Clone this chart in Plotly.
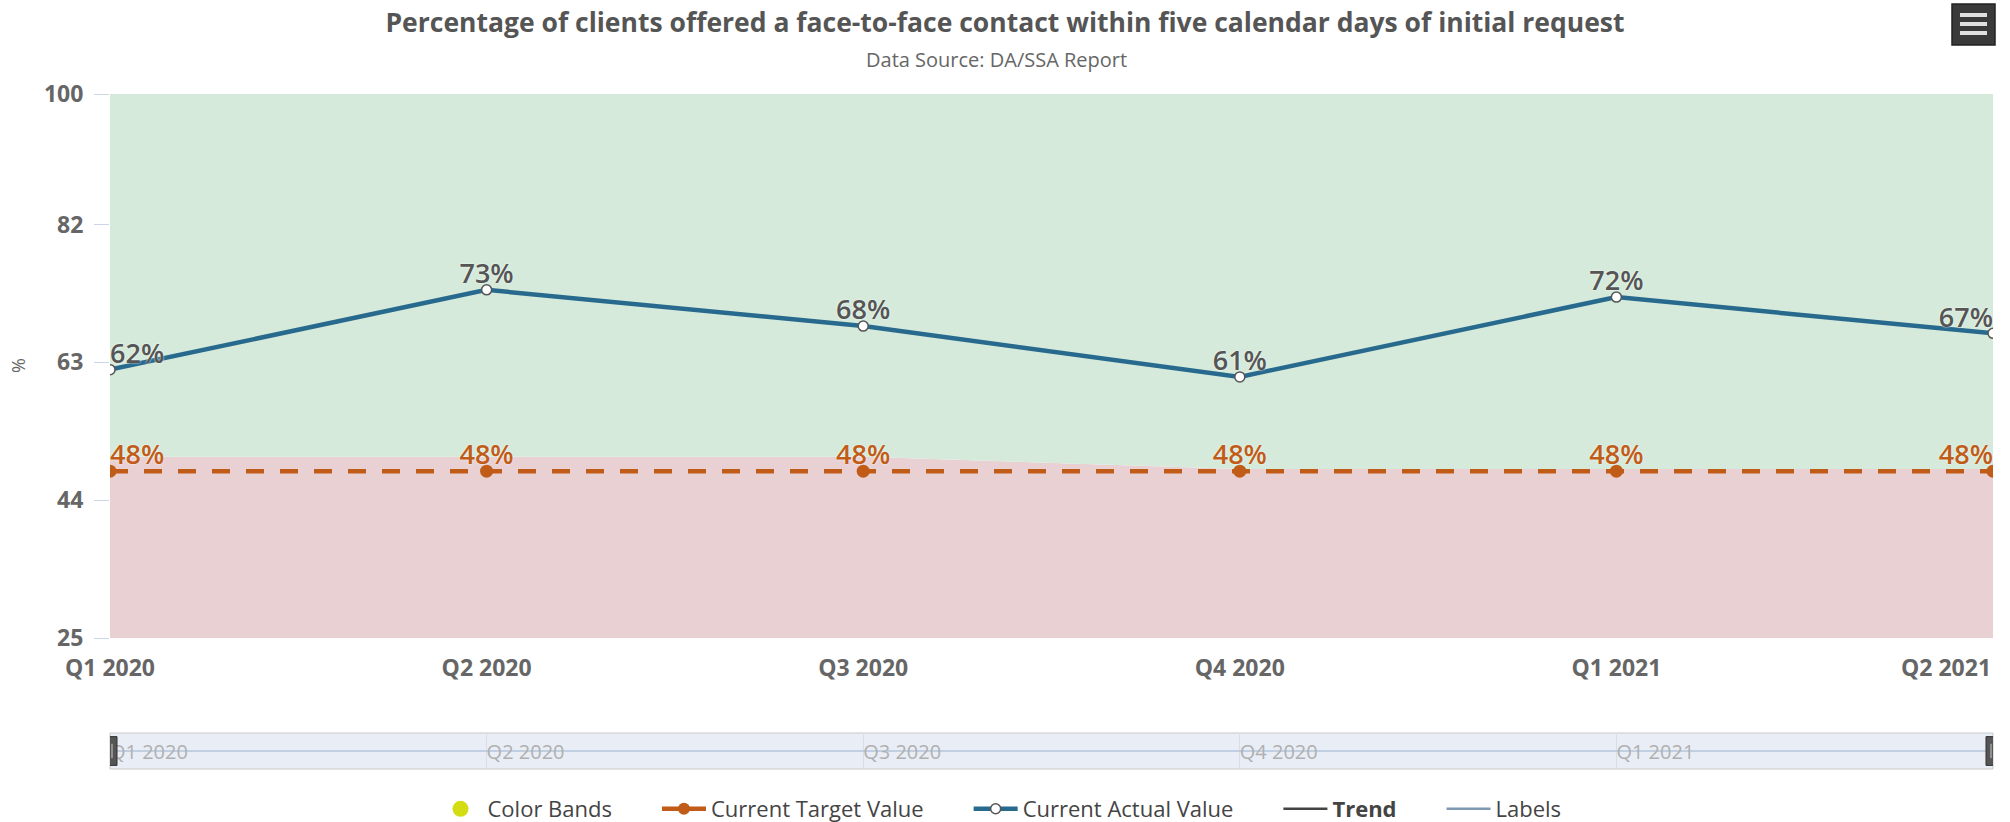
import plotly.graph_objects as go

# ---- data ----
categories = ["Q1 2020", "Q2 2020", "Q3 2020", "Q4 2020", "Q1 2021", "Q2 2021"]
actual_values = [62, 73, 68, 61, 72, 67]
target_values = [48, 48, 48, 48, 48, 48]
red_band_top = [50, 50, 50, 48.3, 48.3, 48.3]
green_band_top = [100, 100, 100, 100, 100, 100]
y_ticks = [25, 44, 63, 82, 100]

FONT = "Open Sans"
BLUE = "#286a8e"
ORANGE = "#c05c18"
GREEN_BAND = "#d5eadb"
RED_BAND = "#e9d1d3"
PAD = "\u00a0" * 7  # spacing after legend entries

fig = go.Figure()

# colour bands
fig.add_trace(go.Scatter(x=categories, y=red_band_top, mode="lines", line=dict(width=0),
                         fill="tozeroy", fillcolor=RED_BAND, showlegend=False, hoverinfo="skip"))
fig.add_trace(go.Scatter(x=categories, y=green_band_top, mode="lines", line=dict(width=0),
                         fill="tonexty", fillcolor=GREEN_BAND, showlegend=False, hoverinfo="skip"))

# legend-only entry for colour bands
fig.add_trace(go.Scatter(x=[None], y=[None], mode="markers", name="Color Bands" + PAD,
                         marker=dict(color="#d4dc14", size=20, symbol="circle")))
# legend-only entry for target (solid symbol like the reference)
fig.add_trace(go.Scatter(x=[None], y=[None], mode="lines+markers", name="Current Target Value" + PAD,
                         line=dict(color=ORANGE, width=4.5), marker=dict(color=ORANGE, size=12)))

# target line
fig.add_trace(go.Scatter(x=categories, y=target_values, mode="lines+markers", name="Current Target Value",
                         showlegend=False,
                         line=dict(color=ORANGE, width=4.5, dash="18px,16px"),
                         marker=dict(color=ORANGE, size=13)))
# actual line
fig.add_trace(go.Scatter(x=categories, y=actual_values, mode="lines+markers", name="Current Actual Value" + PAD,
                         line=dict(color=BLUE, width=4.5),
                         marker=dict(color="white", size=10, line=dict(color="#555", width=1.5))))
# legend-only
fig.add_trace(go.Scatter(x=[None], y=[None], mode="lines", name="<b>Trend</b>" + PAD,
                         line=dict(color="#444", width=2.5)))
fig.add_trace(go.Scatter(x=[None], y=[None], mode="lines", name="Labels",
                         line=dict(color="#7f99b3", width=2.5)))

positions = ["top right"] + ["top center"] * (len(categories) - 2) + ["top left"]
label_font = dict(family=FONT, size=27, weight=600)
fig.add_trace(go.Scatter(x=categories, y=target_values, mode="text", showlegend=False, hoverinfo="skip",
                         text=[f"{v}%" for v in target_values], textposition=positions,
                         textfont=dict(color=ORANGE, shadow="0px 0px 2px white", **label_font)))
fig.add_trace(go.Scatter(x=categories, y=actual_values, mode="text", showlegend=False, hoverinfo="skip",
                         text=[f"{v}%" for v in actual_values], textposition=positions,
                         textfont=dict(color="#555", shadow="0px 0px 2px white", **label_font)))

# navigator series
fig.add_trace(go.Scatter(x=categories, y=target_values, mode="lines", xaxis="x2", yaxis="y2",
                         line=dict(color="#b3c5dd", width=1.5), showlegend=False, hoverinfo="skip"))

nav_bottom = 0.0
nav_top = 36 / 675
main_bottom = 131 / 675

TICKFONT = dict(family=FONT, size=23, weight="bold", color="#666")

fig.update_layout(
    width=2010, height=822,
    margin=dict(l=110, r=17, t=94, b=53, autoexpand=False),
    paper_bgcolor="white", plot_bgcolor="white",
    font=dict(family=FONT, color="#555"),
    title=dict(text="Percentage of clients offered a face-to-face contact within five calendar days of initial request",
               x=0.5, xref="container", xanchor="center",
               y=1 - 23 / 822, yref="container", yanchor="middle",
               font=dict(family=FONT, size=26.5, weight="bold", color="#555")),
    xaxis=dict(type="category", range=[0, len(categories) - 1], domain=[0, 1], anchor="y",
               tickmode="array", tickvals=categories[:-1], ticktext=categories[:-1],
               showgrid=False, showline=False, zeroline=False, ticks="", ticklabelstandoff=14,
               automargin=False, tickfont=TICKFONT),
    yaxis=dict(range=[25, 100], domain=[main_bottom, 1], tickmode="array", tickvals=y_ticks,
               showgrid=False, zeroline=False, showline=False, ticks="outside", ticklen=15,
               tickcolor="#ccd6eb", tickwidth=1, ticklabelstandoff=6, automargin=False,
               tickfont=TICKFONT),
    xaxis2=dict(type="category", range=[0, len(categories) - 1], domain=[0, 1], anchor="y2",
                tickmode="array", tickvals=categories, ticktext=categories,
                showgrid=True, gridcolor="#d8dee8", gridwidth=1, showline=False, zeroline=False,
                ticks="", ticklabelposition="inside right", automargin=False,
                tickfont=dict(family=FONT, size=20, color="#b0b0b0")),
    yaxis2=dict(range=[0, 96], domain=[nav_bottom, nav_top], visible=False),
    legend=dict(orientation="h", x=(1000 - 110) / 1883, xanchor="center",
                y=(769 - 809) / 675, yanchor="middle",
                font=dict(family=FONT, size=22, color="#444"), itemwidth=44,
                traceorder="normal"),
    showlegend=True,
)

# subtitle
fig.add_annotation(text="Data Source: DA/SSA Report", xref="paper", yref="paper",
                   x=(996 - 110) / 1883, y=(769 - 59) / 675, xanchor="center", yanchor="middle",
                   showarrow=False, font=dict(family=FONT, size=20, color="#666"))
# y-axis title
fig.add_annotation(text="%", xref="paper", yref="paper", x=(18 - 110) / 1883,
                   y=(main_bottom + 1) / 2, xanchor="center", yanchor="middle", textangle=-90,
                   showarrow=False, font=dict(family=FONT, size=18, color="#666"))
# last x tick label justified inside the chart
fig.add_annotation(text="<b>" + categories[-1] + "</b>", xref="x", yref="paper", x=categories[-1],
                   y=main_bottom, yanchor="middle", xanchor="right", yshift=-29, showarrow=False,
                   font=dict(family=FONT, size=23, color="#666"))

# navigator background box
fig.add_shape(type="rect", xref="x2 domain", yref="y2 domain", x0=0, x1=1, y0=0, y1=1,
              fillcolor="#e9eef6", line=dict(color="#c8c8c8", width=1), layer="below")
# navigator handles
for cat in [categories[0], categories[-1]]:
    fig.add_shape(type="rect", xref="x2", xsizemode="pixel", xanchor=cat, x0=-7, x1=7,
                  yref="y2 domain", y0=0.1, y1=0.9, fillcolor="#555", line=dict(color="#333", width=1))
    for dx in (-2, 2):
        fig.add_shape(type="line", xref="x2", xsizemode="pixel", xanchor=cat, x0=dx, x1=dx,
                      yref="y2 domain", y0=0.3, y1=0.7, line=dict(color="#ccc", width=1))

# export menu icon (top right)
fig.add_shape(type="rect", xref="paper", xsizemode="pixel", xanchor=1, x0=-41, x1=2,
              yref="paper", ysizemode="pixel", yanchor=1, y0=49, y1=90,
              fillcolor="#3a3a3a", line=dict(color="#222", width=1.5))
for yy in (61, 70, 79):
    fig.add_shape(type="line", xref="paper", xsizemode="pixel", xanchor=1, x0=-33, x1=-6,
                  yref="paper", ysizemode="pixel", yanchor=1, y0=yy, y1=yy,
                  line=dict(color="#e0e0e0", width=4))

fig.write_html("out.html", config={"displayModeBar": False},
               post_script="document.body.style.margin='0px';")
